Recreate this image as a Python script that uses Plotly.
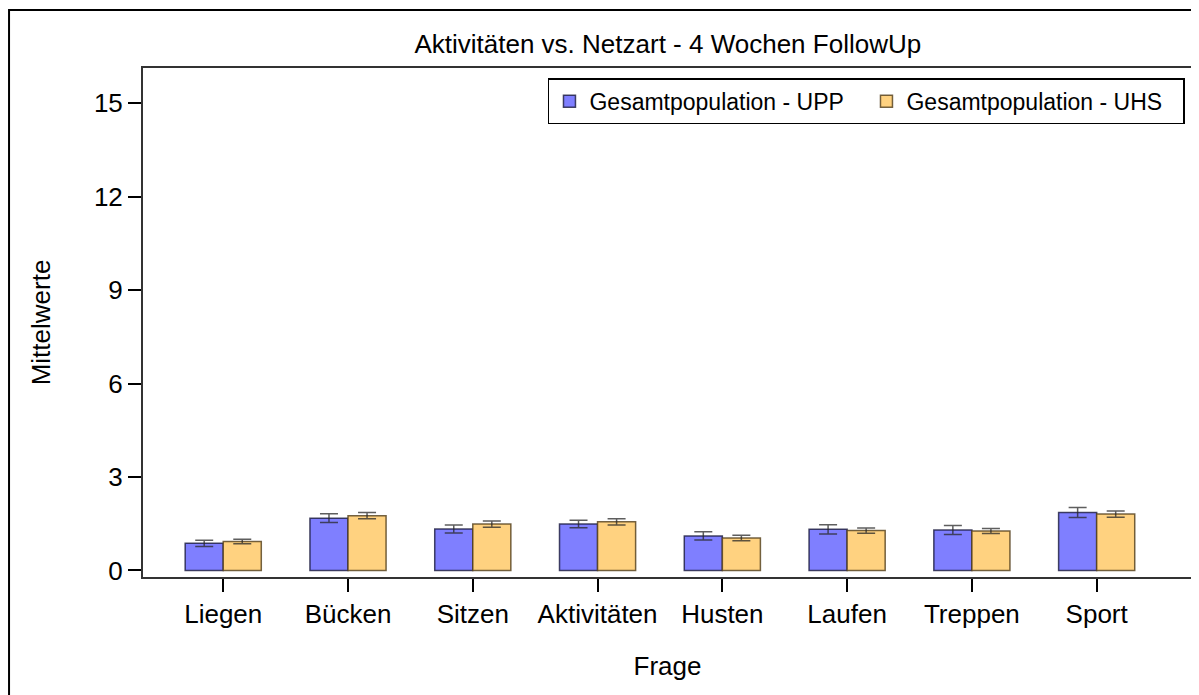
import plotly.graph_objects as go

categories = ["Liegen", "Bücken", "Sitzen", "Aktivitäten", "Husten", "Laufen", "Treppen", "Sport"]

upp_mean = [0.87, 1.68, 1.33, 1.49, 1.11, 1.32, 1.30, 1.86]
upp_err = [0.10, 0.14, 0.13, 0.12, 0.13, 0.15, 0.145, 0.16]

uhs_mean = [0.93, 1.76, 1.49, 1.56, 1.04, 1.28, 1.27, 1.81]
uhs_err = [0.075, 0.10, 0.10, 0.10, 0.09, 0.085, 0.08, 0.10]

FONT = "Liberation Sans, Arial, sans-serif"

fig = go.Figure()
fig.add_trace(go.Bar(
    x=categories, y=upp_mean, name="Gesamtpopulation - UPP",
    marker=dict(color="#7f7fff", line=dict(color="rgba(25,25,60,0.8)", width=1.5)),
    error_y=dict(type="data", array=upp_err, color="rgba(40,40,40,0.75)",
                 thickness=1.5, width=9),
))
fig.add_trace(go.Bar(
    x=categories, y=uhs_mean, name="Gesamtpopulation - UHS",
    marker=dict(color="#ffd280", line=dict(color="rgba(80,60,25,0.8)", width=1.5)),
    error_y=dict(type="data", array=uhs_err, color="rgba(40,40,40,0.75)",
                 thickness=1.5, width=9),
))

# page body has an 8px margin, so the figure is a bit smaller than the window
fig.update_layout(
    width=1191, height=687,
    margin=dict(l=135, r=7, t=60, b=118, autoexpand=False),
    paper_bgcolor="white", plot_bgcolor="white",
    font=dict(family=FONT, color="black", size=26),
    barmode="group", bargap=0.39, bargroupgap=0,
    title=dict(text="Aktivitäten vs. Netzart - 4 Wochen FollowUp",
               x=0.554, xanchor="center", y=0.9476, yanchor="middle",
               font=dict(size=26)),
    legend=dict(orientation="h", x=0.9933, xanchor="right", y=0.980, yanchor="top",
                bgcolor="white", bordercolor="black", borderwidth=1.5,
                font=dict(size=23), traceorder="normal", itemwidth=30,
                entrywidth=272, entrywidthmode="pixels"),
    showlegend=True,
    shapes=[dict(type="rect", xref="paper", yref="paper",
                 x0=-0.1277, x1=1.2, y0=-0.5, y1=1.114,
                 line=dict(color="black", width=2), layer="below")],
)
fig.update_xaxes(
    range=[-0.643, 7.764], showline=True, mirror=True, linecolor="#333",
    linewidth=2, ticks="outside", ticklen=13, tickcolor="black", tickwidth=1.5,
    tickfont=dict(size=26), showgrid=False,
    title=dict(text="Frage", font=dict(size=26), standoff=29),
)
fig.update_yaxes(
    range=[-0.21, 16.13], tickvals=[0, 3, 6, 9, 12, 15],
    showline=True, mirror=True, linecolor="#333", linewidth=2,
    ticks="outside", ticklen=13, tickcolor="black", tickwidth=1.5,
    tickfont=dict(size=26), showgrid=False, zeroline=False,
    title=dict(text="Mittelwerte", font=dict(size=26), standoff=36),
)

fig.write_html("out.html")
